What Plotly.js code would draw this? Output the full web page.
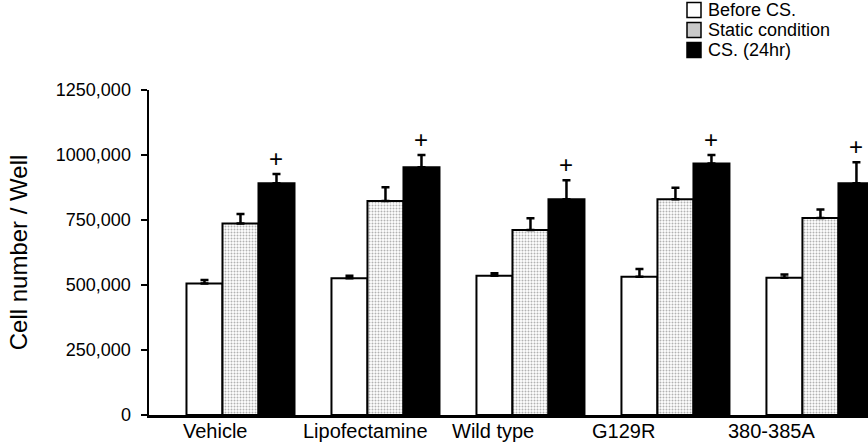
<!DOCTYPE html>
<html>
<head>
<meta charset="utf-8">
<script src="https://cdn.plot.ly/plotly-3.0.1.min.js"></script>
<style>html,body{margin:0;padding:0;background:#fff;}#chart{width:868px;height:443px;}</style>
</head>
<body>
<div id="chart"></div>
<script>
// ---- data ----
const categories = ['Vehicle', 'Lipofectamine', 'Wild type', 'G129R', '380-385A'];
const seriesNames = ['Before CS.', 'Static condition', 'CS. (24hr)'];
const beforeCS = [506000, 526000, 536000, 532000, 528000];
const beforeErr = [13000, 10000, 9000, 30000, 12000];
const staticCond = [737000, 823000, 712000, 830000, 758000];
const staticErr = [36000, 53000, 45000, 44000, 32000];
const cs24 = [891000, 953000, 830000, 967000, 891000];
const cs24Err = [36000, 47000, 73000, 33000, 81000];
const yTickVals = [0, 250000, 500000, 750000, 1000000, 1250000];
const yTickText = ['0', '250,000', '500,000', '750,000', '1000,000', '1250,000'];
const sigMark = '+';

// ---- layout / style ----
const FONT = 'Liberation Sans, Arial, Helvetica, sans-serif';
const W = 868, H = 443;
const M = {l: 149, r: 0, t: 90, b: 28};
const bargap = 0.255;
const zeros = categories.map(() => 0);

function errBar(arr) {
  return {type: 'data', array: arr, arrayminus: zeros, symmetric: false,
          color: '#000', thickness: 2.5, width: 4};
}
const lineStyle = {color: '#000', width: 2};

const traces = [
  {type: 'bar', name: seriesNames[0], x: categories, y: beforeCS,
   marker: {color: '#fff', line: lineStyle}, error_y: errBar(beforeErr)},
  {type: 'bar', name: seriesNames[1], x: categories, y: staticCond,
   marker: {color: '#fff', line: lineStyle,
            pattern: {shape: '.', size: 3, solidity: 0.35, fgcolor: '#666', bgcolor: '#fff', fillmode: 'overlay'}},
   error_y: errBar(staticErr)},
  {type: 'bar', name: seriesNames[2], x: categories, y: cs24,
   marker: {color: '#000', line: lineStyle}, error_y: errBar(cs24Err)}
];

// conversion helpers for the hand-made legend (pixel -> paper)
const pw = W - M.l - M.r, ph = H - M.t - M.b;
const px = v => (v - M.l) / pw;
const py = v => (H - M.b - v) / ph;

const barW = (1 - bargap) / 3;
const labelShift = [-0.17, -0.14, -0.26, -0.36, -0.34];

const annotations = [];
// significance marks above the CS bars
categories.forEach((c, i) => {
  annotations.push({x: i + barW, y: cs24[i] + cs24Err[i], xref: 'x', yref: 'y',
    text: sigMark, showarrow: false, yanchor: 'bottom', yshift: 0,
    font: {family: FONT, size: 24, color: '#000'}});
});
// category labels
categories.forEach((c, i) => {
  annotations.push({x: i + labelShift[i], y: 0, xref: 'x', yref: 'paper',
    text: c, showarrow: false, yanchor: 'top', yshift: -3,
    font: {family: FONT, size: 20, color: '#000'}});
});

// legend
const legendFill = ['#fff', '#c9c9c9', '#000'];
const legendRows = [10, 30, 50];
const shapes = [];
seriesNames.forEach((n, i) => {
  const cy = legendRows[i];
  shapes.push({type: 'rect', xref: 'paper', yref: 'paper',
    x0: px(687), x1: px(701), y0: py(cy - 7.5), y1: py(cy + 7.5),
    fillcolor: legendFill[i], line: {color: '#000', width: 1.5}});
  annotations.push({x: px(707), y: py(cy), xref: 'paper', yref: 'paper',
    text: n, showarrow: false, xanchor: 'left', yanchor: 'middle',
    borderpad: 0,
    font: {family: FONT, size: 18, color: '#000'}});
});

const layout = {
  width: W, height: H,
  margin: M,
  paper_bgcolor: '#fff', plot_bgcolor: '#fff',
  font: {family: FONT, color: '#000'},
  showlegend: false,
  barmode: 'group', bargap: bargap, bargroupgap: 0,
  xaxis: {type: 'category', range: [-0.631, 4.328], showgrid: false, zeroline: false,
          showline: true, linecolor: '#000', linewidth: 2.5, ticks: '', showticklabels: false,
          fixedrange: true},
  yaxis: {range: [0, 1250000], showgrid: false, zeroline: false,
          showline: true, linecolor: '#000', linewidth: 2.5,
          ticks: 'outside', ticklen: 6, tickwidth: 1.5, tickcolor: '#000',
          tickvals: yTickVals, ticktext: yTickText, ticklabelstandoff: 6,
          tickfont: {family: FONT, size: 18, color: '#000'},
          title: {text: 'Cell number / Well', font: {family: FONT, size: 24, color: '#000'}, standoff: 22},
          automargin: false},
  annotations: annotations,
  shapes: shapes
};

Plotly.newPlot('chart', traces, layout, {displayModeBar: false, staticPlot: true});
</script>
</body>
</html>
